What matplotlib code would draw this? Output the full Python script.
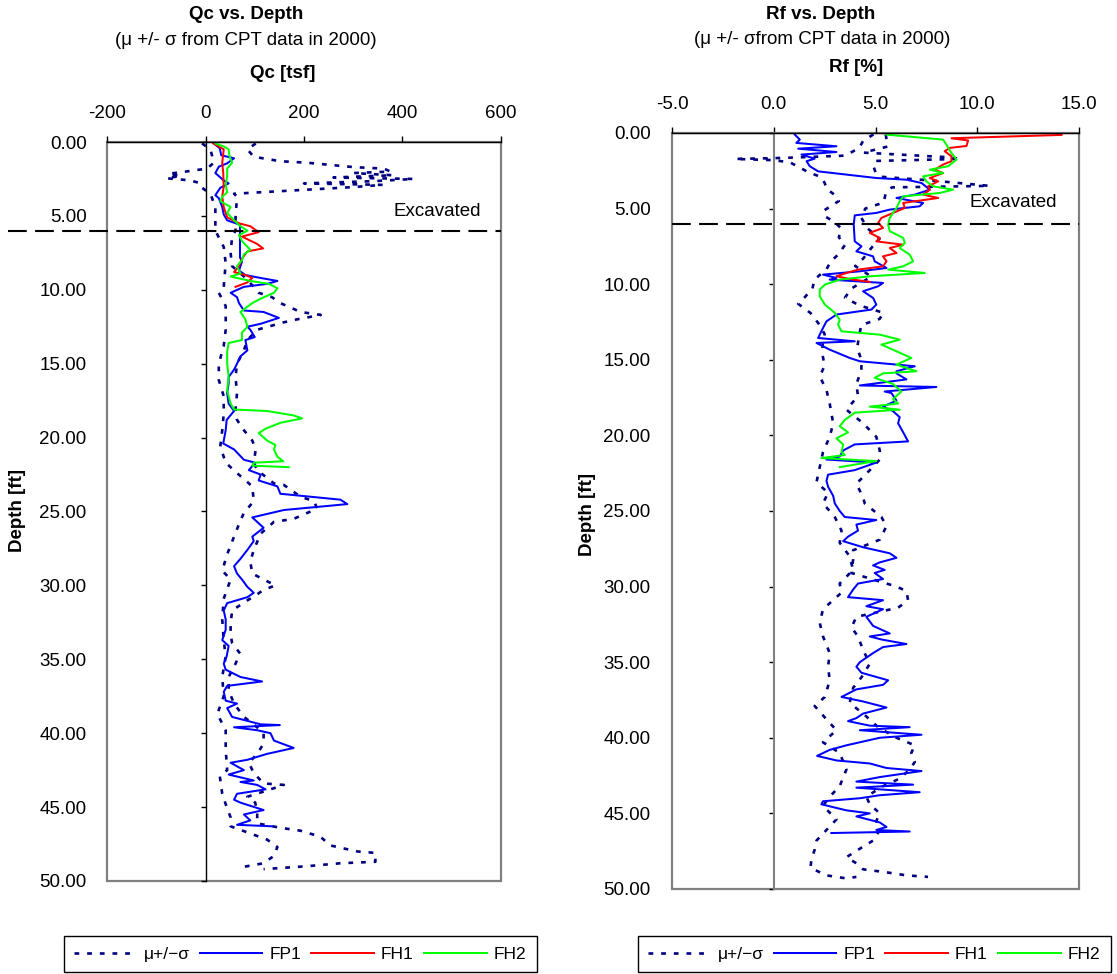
import matplotlib
matplotlib.use("Agg")
import matplotlib.pyplot as plt

plt.rcParams['font.family'] = ['Liberation Sans', 'DejaVu Sans']

excavated_depth = 6.0

# ---- Qc profile [tsf] ----
qc_fp1_depth = [0.1, 0.43, 0.9, 1.1, 1.44, 1.67, 2.1, 2.6, 2.8, 3.1, 3.6, 3.8, 4.4, 4.9, 5.3, 5.6, 6.0, 7.8, 8.1,
                8.7, 9.0, 9.2, 9.4, 9.6, 9.8, 10.2, 10.5, 10.9, 11.4, 11.5, 11.9, 12.3, 12.5, 12.7, 13.2, 13.4, 14.1,
                14.5, 15.0, 15.4, 15.9, 16.3, 17.0, 17.7, 18.2, 18.8, 19.5, 20.4, 20.8, 21.5, 21.7, 22.2, 22.5, 22.9,
                23.3, 23.8, 24.2, 24.5, 24.9, 25.4, 25.8, 26.1, 26.7, 27.0, 27.6, 28.2, 28.7, 29.2, 29.6, 30.1, 30.5,
                30.8, 31.2, 31.7, 32.3, 33.0, 33.7, 34.1, 34.8, 35.3, 35.7, 36.2, 36.5, 36.8, 37.2, 37.8, 38.0, 38.3,
                38.9, 39.4, 39.45, 39.6, 39.8, 40.0, 40.5, 41.0, 41.4, 41.8, 42.0, 42.5, 42.8, 43.2, 43.3, 43.5, 43.8,
                44.1, 44.5, 44.7, 45.2, 45.5, 45.9, 46.2, 46.3]
qc_fp1 = [17, 29, 32, 58, 44, 27, 20, 37, 47, 30, 20, 27, 34, 37, 44, 70, 70, 70, 74,
          68, 81, 112, 146, 125, 78, 51, 64, 68, 78, 118, 149, 112, 85, 91, 100, 81, 85,
          71, 64, 58, 47, 47, 44, 47, 58, 43, 41, 36, 58, 78, 101, 88, 112, 108,
          146, 152, 274, 288, 159, 95, 108, 118, 95, 98, 85, 71, 58, 64, 74, 85, 98,
          85, 44, 37, 41, 41, 34, 47, 43, 37, 41, 71, 115, 44, 37, 41, 64, 44,
          54, 112, 151, 58, 105, 132, 139, 179, 125, 85, 51, 78, 47, 98, 71, 105, 122,
          64, 58, 71, 118, 78, 91, 64, 135]

qc_fh1_depth = [0.1, 0.5, 1.4, 2.1, 3.0, 3.7, 4.4, 5.1, 5.5, 5.7, 6.1, 6.4, 6.9, 7.2, 7.4, 7.9, 8.4, 8.8, 9.0,
                9.2, 9.5, 9.8]
qc_fh1 = [16, 37, 34, 36, 37, 34, 37, 44, 68, 91, 108, 74, 105, 117, 85, 74, 68, 58, 81,
          95, 85, 61]

qc_fh2_depth = [0.1, 0.3, 0.5, 1.0, 1.4, 1.8, 2.3, 2.9, 3.4, 3.7, 4.0, 4.4, 4.8, 5.3, 5.7, 6.0, 6.3, 6.7, 7.3,
                7.6, 8.0, 8.4, 8.9, 9.1, 9.4, 9.6, 9.9, 10.2, 10.6, 10.9, 11.5, 12.0, 12.5, 12.9, 13.4, 13.6, 14.2,
                15.0, 15.9, 16.8, 17.2, 17.7, 18.1, 18.2, 18.5, 18.7, 19.0, 19.4, 19.7, 20.2, 20.5, 20.8, 21.3,
                21.6, 21.7, 21.9, 22.0]
qc_fh2 = [20, 37, 47, 49, 54, 44, 44, 41, 44, 34, 30, 51, 44, 58, 71, 85, 68, 74, 91,
          78, 74, 64, 71, 51, 91, 129, 146, 139, 112, 95, 71, 81, 85, 74, 74, 47, 44,
          44, 47, 44, 47, 51, 58, 125, 179, 196, 152, 122, 108, 125, 142, 139, 146,
          158, 98, 95, 169]

qc_low_depth = [0.1, 0.5, 1.4, 1.8, 2.0, 2.15, 2.3, 2.45, 2.6, 2.8, 3.1, 3.5, 4.4, 6.0, 7.1, 8.2, 9.8, 10.2, 11.1,
                12.7, 13.8, 15.0, 16.1, 17.2, 18.4, 19.5, 20.6, 21.7, 22.4, 23.3, 24.3, 25.1, 25.6, 26.7, 27.9,
                29.0, 29.6, 30.9, 32.3, 33.7, 34.8, 36.2, 37.5, 38.7, 39.8, 41.1, 42.5, 42.9, 44.1, 44.8, 45.7,
                46.3, 47.2, 47.7, 48.3, 48.8, 49.1]
qc_low = [-7, 10, 17, 3, -40, -75, -50, -80, -30, -10, -7, 10, 20, 20, 37, 41, 37, 27, 41,
          41, 37, 27, 27, 37, 37, 34, 30, 41, 64, 95, 98, 78, 71, 58, 44,
          34, 51, 37, 34, 37, 41, 34, 37, 24, 41, 41, 44, 29, 34, 41, 51,
          51, 125, 146, 139, 118, 68]

qc_high_depth = [0.1, 0.5, 1.0, 1.3, 1.4, 1.7, 1.8, 2.0, 2.1, 2.25, 2.4, 2.5, 2.65, 2.8, 2.9, 3.05, 3.2, 3.5, 3.7,
                 5.1, 6.0, 6.4, 7.5, 8.4, 9.1, 9.8, 10.2, 10.5, 10.9, 11.5, 11.7, 12.0, 12.2, 12.7, 13.4, 14.1,
                 15.0, 15.9, 17.0, 18.1, 18.8, 19.5, 20.2, 20.8, 21.7, 22.2, 23.1, 23.2, 24.0, 24.3, 24.8, 25.5,
                 25.7, 26.5, 27.6, 28.4, 29.2, 29.6, 30.0, 30.3, 30.6, 31.1, 31.7, 32.6, 33.3, 33.9, 34.6, 35.3,
                 36.2, 37.1, 38.0, 38.9, 39.4, 40.0, 40.7, 41.4, 42.0, 42.7, 43.4, 43.5, 43.8, 44.3, 44.7, 45.4,
                 46.1, 46.4, 46.6, 47.0, 47.6, 48.0, 48.1, 48.7, 48.8, 49.0, 49.2]
qc_high = [102, 85, 98, 152, 206, 301, 362, 376, 301, 380, 260, 423, 340, 200, 360, 300, 220, 58, 64,
           61, 61, 54, 51, 54, 78, 98, 108, 135, 152, 193, 234, 186, 159, 105, 85, 78,
           64, 61, 64, 61, 64, 78, 95, 102, 98, 105, 139, 159, 193, 220, 227, 179,
           139, 112, 98, 91, 95, 118, 142, 118, 105, 81, 54, 51, 51, 54, 70, 61,
           47, 47, 58, 78, 98, 118, 118, 105, 88, 98, 118, 159, 132, 85, 101, 105,
           105, 152, 193, 233, 254, 308, 345, 345, 274, 206, 118]

# ---- Rf profile [%] ----
rf_fp1_depth = [0.1, 0.44, 0.66, 0.88, 1.04, 1.26, 1.43, 1.7, 1.87, 2.2, 2.54, 2.98, 3.09, 3.31, 3.75, 4.08, 4.3,
                4.63, 4.85, 5.07, 5.29, 5.45, 6.06, 7.17, 7.5, 7.83, 8.16, 8.49, 8.93, 9.15, 9.37, 9.59, 9.7, 9.92,
                10.14, 10.47, 10.91, 11.35, 11.68, 12.01, 12.46, 12.9, 13.56, 13.78, 13.89, 14.33, 14.88, 15.1,
                15.43, 15.76, 15.9, 16.3, 16.7, 16.8, 17.1, 17.2, 17.7, 18.1, 18.4, 18.8, 19.2, 19.8, 20.4, 20.6,
                21.0, 21.4, 21.6, 21.8, 22.3, 22.6, 23.0, 23.4, 24.0, 24.5, 25.0, 25.4, 25.6, 25.9, 26.3, 26.7,
                27.0, 27.4, 27.8, 28.1, 28.4, 28.6, 28.9, 29.1, 29.5, 29.8, 30.2, 30.7, 30.9, 31.3, 31.5, 32.0,
                32.6, 33.1, 33.3, 33.5, 33.8, 34.0, 34.4, 35.0, 35.3, 35.7, 36.2, 36.5, 36.8, 37.3, 37.6, 38.0,
                38.4, 38.7, 38.9, 39.2, 39.3, 39.5, 39.8, 40.0, 40.5, 40.8, 41.2, 41.5, 41.7, 42.0, 42.2, 42.6,
                42.9, 43.1, 43.3, 43.6, 43.8, 44.0, 44.2, 44.4, 44.8, 45.0, 45.2, 45.6, 45.9, 46.1, 46.2, 46.3]
rf_fp1 = [1.03, 1.28, 1.11, 3.08, 1.2, 3.08, 1.36, 2.01, 1.61, 1.77, 2.18, 5.04, 6.52, 7.26, 7.67, 6.93, 6.03,
          7.34, 7.17, 5.7, 5.04, 3.98, 3.93, 3.98, 4.31, 4.06, 4.88, 4.96, 5.54, 4.23, 2.42, 3.08, 2.75, 5.37,
          5.13, 4.39, 4.88, 5.04, 4.8, 3.08, 2.59, 2.42, 2.18, 3.98, 2.1, 2.75, 3.73, 4.23,
          6.93, 6.03, 6.03, 6.52, 4.23, 7.99, 5.45, 5.78, 6.03, 5.37, 5.86, 6.19, 6.11, 6.36, 6.6, 3.98,
          3.41, 3.24, 2.59, 5.04, 3.98, 2.67, 2.59, 2.67, 2.92, 3.0, 3.24, 3.49, 5.04, 4.06, 4.14, 3.65,
          3.41, 4.39, 5.7, 6.03, 5.21, 4.88, 5.45, 4.96, 5.37, 4.14, 3.9, 3.65, 5.37, 4.55, 5.37, 4.55,
          4.88, 5.7, 4.72, 5.29, 6.52, 5.37, 4.88, 4.23, 4.06, 4.31, 5.62, 5.37, 4.06, 3.33, 4.39, 5.54,
          4.39, 4.06, 3.65, 4.72, 6.68, 4.23, 7.26, 5.21, 3.57, 2.75, 2.13, 3.08, 4.72, 5.54, 7.26, 5.21,
          4.06, 6.85, 4.06, 7.17, 5.21, 4.23, 2.42, 2.34, 3.57, 4.72, 4.06, 5.21, 5.54, 5.04, 6.68, 2.83]

rf_fh1_depth = [0.13, 0.35, 0.5, 0.86, 0.99, 1.21, 1.54, 1.87, 2.09, 2.43, 2.65, 2.98, 3.2, 3.53, 3.75, 4.08, 4.3,
                4.63, 4.96, 5.29, 5.62, 5.95, 6.28, 6.61, 6.94, 7.17, 7.39, 7.61, 7.94, 8.16, 8.49, 8.82, 9.04,
                9.26, 9.48, 9.7, 9.85]
rf_fh1 = [14.14, 8.73, 9.55, 9.47, 8.65, 8.4, 8.73, 8.73, 8.32, 7.91, 8.32, 7.67, 8.08, 7.58, 7.67, 7.34, 8.08,
          6.36, 6.44, 5.86, 5.29, 5.13, 5.37, 4.72, 5.21, 5.04, 6.36, 5.7, 6.03, 5.37, 5.54, 5.37, 4.14,
          3.57, 3.08, 3.9, 4.72]

rf_fh2_depth = [0.11, 0.44, 0.77, 1.32, 1.76, 2.2, 2.43, 2.65, 2.87, 3.2, 3.53, 3.75, 3.97, 4.19, 4.52, 4.96, 5.29,
                5.62, 6.06, 6.5, 6.94, 7.28, 7.61, 8.05, 8.49, 8.82, 9.04, 9.26, 9.48, 9.7, 10.03, 10.36, 10.8,
                11.35, 11.9, 12.35, 12.68, 13.12, 13.34, 13.67, 14.0, 14.44, 14.88, 15.32, 15.76, 15.9, 16.2,
                16.6, 17.1, 17.6, 17.9, 18.1, 18.3, 18.5, 18.98, 19.4, 19.8, 20.2, 20.6, 21.1, 21.3, 21.5, 21.7,
                22.1]
rf_fh2 = [5.54, 8.32, 8.48, 8.73, 8.98, 8.57, 7.67, 8.32, 7.34, 7.5, 7.83, 8.81, 8.16, 6.36, 6.19, 6.03, 5.86,
          5.7, 5.62, 5.7, 6.36, 6.44, 6.19, 6.68, 6.85, 6.36, 5.62, 7.42, 4.72, 3.24, 2.51, 2.26, 2.26,
          2.51, 3.0, 3.24, 3.16, 3.33, 5.21, 6.19, 5.29, 6.03, 6.76, 6.03, 7.01, 5.37, 4.96,
          5.86, 6.27, 5.86, 6.11, 4.72, 6.19, 3.98, 3.49, 3.24, 3.65, 3.08, 3.41, 3.33, 3.49, 2.34, 5.04,
          3.24]

rf_low_depth = [0.1, 0.5, 1.0, 1.5, 1.65, 1.72, 1.8, 1.95, 2.3, 2.6, 2.9, 3.3, 3.7, 4.1, 4.5, 5.1, 5.5, 5.9, 6.3,
                6.9, 7.4, 8.0, 8.5, 9.0, 9.7, 10.3, 10.9, 11.3, 11.9, 12.6, 13.3, 14.0, 14.7, 15.4, 16.1, 17.0,
                17.9, 19.2, 20.1, 21.1, 22.1, 23.1, 23.8, 24.5, 25.4, 26.3, 27.1, 28.0, 28.9, 29.8, 30.4, 31.5,
                32.4, 33.3, 34.4, 35.3, 36.2, 37.3, 37.9, 38.9, 39.5, 40.3, 41.0, 42.1, 43.2, 43.9, 44.5, 45.4,
                46.1, 46.8, 47.4, 48.1, 48.6, 49.1, 49.3, 49.2]
rf_low = [4.9, 4.4, 4.2, 3.5, 0.5, -1.9, 0.0, 0.8, 1.3, 1.7, 2.3, 2.5, 2.6, 3.0, 3.2, 2.5, 2.5, 3.0, 3.3,
          3.2, 3.5, 3.2, 2.8, 2.6, 2.0, 1.9, 1.5, 1.2, 1.8, 2.2, 2.5, 2.4, 2.4, 2.5, 2.26, 2.59,
          2.75, 2.92, 2.75, 2.42, 2.26, 2.1, 2.67, 2.42, 3.0, 3.33, 3.24, 3.73, 3.9, 3.24, 3.33, 2.42,
          2.26, 2.42, 2.75, 2.67, 2.75, 2.51, 2.01, 2.67, 3.08, 2.42, 3.24, 3.57, 3.24, 2.75, 2.42, 3.08,
          2.59, 2.1, 2.01, 1.85, 1.8, 2.59, 3.57, 4.06]

rf_high_depth = [0.1, 0.9, 1.3, 1.6, 1.72, 1.85, 2.2, 2.6, 2.9, 3.15, 3.5, 3.6, 4.0, 4.6, 5.0, 5.6, 6.3, 7.0, 7.6,
                 8.3, 8.8, 9.5, 10.3, 10.9, 11.4, 11.9, 12.3, 12.7, 13.4, 14.2, 15.0, 15.7, 16.6, 17.4, 18.3,
                 19.2, 20.1, 21.0, 21.6, 22.3, 23.2, 24.1, 24.5, 25.4, 26.0, 26.9, 27.6, 28.2, 29.1, 30.0, 30.3,
                 30.9, 31.4, 32.0, 32.7, 33.3, 34.2, 35.1, 36.0, 36.7, 37.7, 38.4, 39.3, 40.0, 40.5, 41.0, 41.6,
                 42.1, 42.7, 43.2, 43.9, 44.4, 45.0, 45.5, 46.1, 46.8, 47.2, 47.9, 48.3, 48.7, 48.9, 49.1, 49.2]
rf_high = [5.5, 5.6, 4.4, 8.5, 9.2, 5.0, 4.9, 5.0, 5.3, 7.8, 10.6, 5.8, 5.5, 5.4, 4.5, 4.3, 4.6, 5.2, 4.8,
           4.4, 4.0, 4.8, 3.8, 3.5, 4.2, 5.4, 5.2, 4.3, 4.2, 4.1, 4.3, 4.31, 4.06, 4.14, 3.57,
           4.39, 5.04, 5.21, 5.21, 4.72, 4.06, 4.39, 4.47, 5.29, 5.54, 5.21, 3.9, 3.9, 3.82, 6.03, 6.52,
           6.6, 6.11, 4.06, 3.82, 4.14, 4.39, 4.72, 4.31, 3.9, 3.73, 4.39, 5.13, 6.03, 6.93, 6.76, 6.93,
           6.68, 6.19, 5.37, 4.55, 4.72, 5.21, 5.04, 5.21, 4.88, 4.39, 3.57, 4.06, 4.39, 5.54, 6.52, 7.58]

depth_ticks = [0, 5, 10, 15, 20, 25, 30, 35, 40, 45, 50]

sigma_style = dict(color='#000080', lw=1.9, linestyle=(0, (1.8, 3.0)))
line_w = 1.45

fig = plt.figure(figsize=(11.17, 9.74), dpi=100)
fig.patch.set_facecolor('white')


def setup_axes(ax, xlim, xticks, xfmt, zero_color, ylab_pad):
    ax.set_xlim(*xlim)
    ax.set_ylim(50, 0)
    ax.patch.set_edgecolor('#808080')
    ax.patch.set_linewidth(1.6)
    for side in ['right', 'bottom']:
        ax.spines[side].set_visible(False)
    ax.spines['top'].set_color('black')
    ax.spines['top'].set_linewidth(1.0)
    ax.spines['left'].set_position(('data', 0))
    ax.spines['left'].set_color(zero_color)
    ax.spines['left'].set_linewidth(1.0 if zero_color == 'black' else 1.5)
    ax.xaxis.tick_top()
    ax.set_xticks(xticks)
    ax.set_xticklabels([xfmt.format(v) for v in xticks])
    ax.tick_params(axis='x', direction='out', length=4.5, width=1.0, pad=10, labelsize=13.5)
    ax.set_yticks(depth_ticks)
    ax.set_yticklabels(['{:.2f}'.format(v) for v in depth_ticks])
    ax.tick_params(axis='y', direction='out', length=3.6, width=1.0, pad=ylab_pad, labelsize=13.5)


ax1 = fig.add_axes([0.0958, 0.0955, 0.3527, 0.7587])
setup_axes(ax1, (-200, 600), [-200, 0, 200, 400, 600], '{:d}', 'black', 82)

lo1, = ax1.plot(qc_low, qc_low_depth, label='\u03bc+/\u2212\u03c3', **sigma_style)
ax1.plot(qc_high, qc_high_depth, **sigma_style)
fp1, = ax1.plot(qc_fp1, qc_fp1_depth, color='#0000FF', lw=line_w, label='FP1')
fh1, = ax1.plot(qc_fh1, qc_fh1_depth, color='#FF0000', lw=line_w, label='FH1')
fh2, = ax1.plot(qc_fh2, qc_fh2_depth, color='#00FF00', lw=line_w, label='FH2')
ax1.plot([-401, 600], [excavated_depth, excavated_depth], color='black', lw=1.5,
         linestyle=(0, (9, 4)), clip_on=False)
ax1.text(382, 4.67, 'Excavated', fontsize=13.5, va='center', ha='left')

ax2 = fig.add_axes([0.6016, 0.0873, 0.3644, 0.7762])
setup_axes(ax2, (-5, 15), [-5, 0, 5, 10, 15], '{:.1f}', '#808080', 85)

ax2.plot(rf_low, rf_low_depth, **sigma_style)
ax2.plot(rf_high, rf_high_depth, **sigma_style)
ax2.plot(rf_fp1, rf_fp1_depth, color='#0000FF', lw=line_w)
ax2.plot(rf_fh1, rf_fh1_depth, color='#FF0000', lw=line_w)
ax2.plot(rf_fh2, rf_fh2_depth, color='#00FF00', lw=line_w)
ax2.axhline(excavated_depth, color='black', lw=1.5, linestyle=(0, (9, 4)))
ax2.text(9.63, 4.63, 'Excavated', fontsize=13.5, va='center', ha='left')

# titles and axis labels
fig.text(0.220, 0.9846, 'Qc vs. Depth', fontsize=13.5, fontweight='bold', ha='center', va='center')
fig.text(0.220, 0.958, '(\u03bc +/- \u03c3 from CPT data in 2000)', fontsize=13.5, ha='center', va='center')
fig.text(0.253, 0.925, 'Qc [tsf]', fontsize=13.5, fontweight='bold', ha='center', va='center')
fig.text(0.016, 0.476, 'Depth [ft]', fontsize=13.5, fontweight='bold', rotation=90, ha='center', va='center')

fig.text(0.735, 0.9846, 'Rf vs. Depth', fontsize=13.5, fontweight='bold', ha='center', va='center')
fig.text(0.736, 0.959, '(\u03bc +/- \u03c3from CPT data in 2000)', fontsize=13.5, ha='center', va='center')
fig.text(0.766, 0.931, 'Rf [%]', fontsize=13.5, fontweight='bold', ha='center', va='center')
fig.text(0.526, 0.472, 'Depth [ft]', fontsize=13.5, fontweight='bold', rotation=90, ha='center', va='center')

handles = [lo1, fp1, fh1, fh2]
labels = [h.get_label() for h in handles]
for cx in [0.2686, 0.7825]:
    leg = fig.legend(handles, labels, loc='center', bbox_to_anchor=(cx, 0.0205), ncol=4, fontsize=12.5,
                     handlelength=3.6, handletextpad=0.4, columnspacing=0.6, borderpad=0.6,
                     fancybox=False, framealpha=1, edgecolor='black')
    leg.get_frame().set_linewidth(1.0)

fig.savefig('out.png', dpi=100, facecolor='white')
